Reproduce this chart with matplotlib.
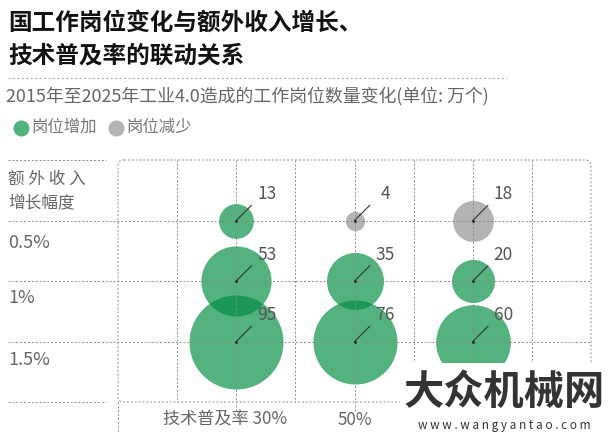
import matplotlib
matplotlib.use('Agg')
import matplotlib.pyplot as plt
from matplotlib.patches import FancyBboxPatch, Rectangle
from matplotlib.lines import Line2D

plt.rcParams['font.family'] = ['Noto Sans CJK SC', 'DejaVu Sans']

# data (unit: 10k jobs)
tech_rates = ['30%', '50%', '70%']
income_growth = ['0.5%', '1%', '1.5%']
jobs_30 = [13, 53, 95]
jobs_50 = [4, 35, 76]
jobs_70 = [18, 20, 60]
loss_30 = [False, False, False]
loss_50 = [True, False, False]
loss_70 = [True, False, False]

GREEN = '#008c41'
GRAY = '#b3b3b3'
GRID = '#8c8c8c'
W, H = 612, 443


def fy(py):
    return 1 - py / H


fig = plt.figure(figsize=(W / 100, H / 100), dpi=100)

# headline
fig.text(8 / W, fy(23), '国工作岗位变化与额外收入增长、', fontsize=17, fontweight='bold',
         color='#111111', va='center', ha='left')
fig.text(8 / W, fy(55), '技术普及率的联动关系', fontsize=17, fontweight='bold',
         color='#111111', va='center', ha='left')
fig.add_artist(Line2D([8 / W, 507 / W], [fy(78), fy(78)], color='#aaaaaa', lw=0.8,
                      linestyle=(0, (2, 2))))
fig.text(6 / W, fy(97), '2015年至2025年工业4.0造成的工作岗位数量变化(单位: 万个)',
         fontsize=12.9, color='#666666', va='center', ha='left')

# legend
fig.add_artist(Line2D([21 / W], [fy(128)], marker='o', markersize=10.5, color='#4fb47b', lw=0))
fig.text(31 / W, fy(127), '岗位增加', fontsize=11.8, color='#777777', va='center')
fig.add_artist(Line2D([116 / W], [fy(128)], marker='o', markersize=10.5, color=GRAY, lw=0))
fig.text(126 / W, fy(127), '岗位减少', fontsize=11.8, color='#777777', va='center')

# chart area: x from -1..3 (columns at 0,1,2), y from -1..3 (rows at 0,1,2)
ax = fig.add_axes([118 / W, (H - 402) / H, 473 / W, 242 / H])
ax.set_xlim(-1, 3)
ax.set_ylim(3, -1)
ax.axis('off')

dash = dict(color=GRID, lw=0.7, linestyles=(0, (2, 2)), clip_on=False, zorder=3)
ax.vlines([-0.5, 0.5, 1.5, 2, 2.5], -1, 3, **dash)
ax.vlines([0, 1], -1, 3.15, **dash)
ax.vlines([-1], 3, 3.5, **dash)
ax.hlines(range(len(income_growth)), -1.93, 3, **dash)
ax.hlines([-1, 3], -1.93, -1.1, **dash)
box = FancyBboxPatch((-1, -1), 4, 4, boxstyle='round,pad=0,rounding_size=0.05',
                     mutation_aspect=1.95, fill=False, edgecolor=GRID, lw=0.7,
                     linestyle=(0, (2, 2)), clip_on=False, zorder=3)
ax.add_patch(box)

for col, (vals, losses) in enumerate([(jobs_30, loss_30), (jobs_50, loss_50), (jobs_70, loss_70)]):
    for row, (v, lost) in enumerate(zip(vals, losses)):
        color = GRAY if lost else GREEN
        alpha = 1.0 if lost else 0.67
        ax.scatter(col, row, s=48.2 * v, color=color, alpha=alpha, lw=0, zorder=2, clip_on=False)
        ax.scatter(col, row, s=4, color='#222222', lw=0, zorder=4)
        ax.annotate('', xy=(col, row), xytext=(11, 11), textcoords='offset points',
                    arrowprops=dict(arrowstyle='-', lw=0.8, color='#333333', shrinkA=0, shrinkB=0),
                    zorder=4)
        ax.annotate(str(v), xy=(col, row), xytext=(22, 19), textcoords='offset points',
                    fontsize=12.5, color='#555555', ha='center', va='center', zorder=5)

# row labels (left)
fig.text(8 / W, fy(179), '额 外 收 入', fontsize=12, color='#666666', va='center')
fig.text(8 / W, fy(203), '增长幅度', fontsize=12, color='#666666', va='center')
for py, lab in zip([243, 298, 360], income_growth):
    fig.text(8 / W, fy(py), lab, fontsize=13, color='#666666', va='center')

# column labels (bottom); the 70% label is hidden under the site watermark
ax.annotate('技术普及率 ' + tech_rates[0], xy=(0, 3), xytext=(-8, -13), textcoords='offset points',
            fontsize=12.3, color='#666666', ha='center', va='center', annotation_clip=False)
ax.annotate(tech_rates[1], xy=(1, 3), xytext=(0, -13), textcoords='offset points',
            fontsize=12.3, color='#666666', ha='center', va='center', annotation_clip=False)

# site watermark
fig.add_artist(Rectangle((400 / W, 0), 212 / W, (H - 363) / H, facecolor='white',
                         edgecolor='none', transform=fig.transFigure, zorder=10))
fig.text(504 / W, fy(392), '大众机械网', fontsize=29, fontweight='bold', color='#333333',
         ha='center', va='center', zorder=11)
fig.text(504 / W, fy(426), 'w w w . w a n g y a n t a o . c o m', fontsize=8.5,
         color='#333333', ha='center', va='center', zorder=11)

fig.savefig('out.png', dpi=100)
